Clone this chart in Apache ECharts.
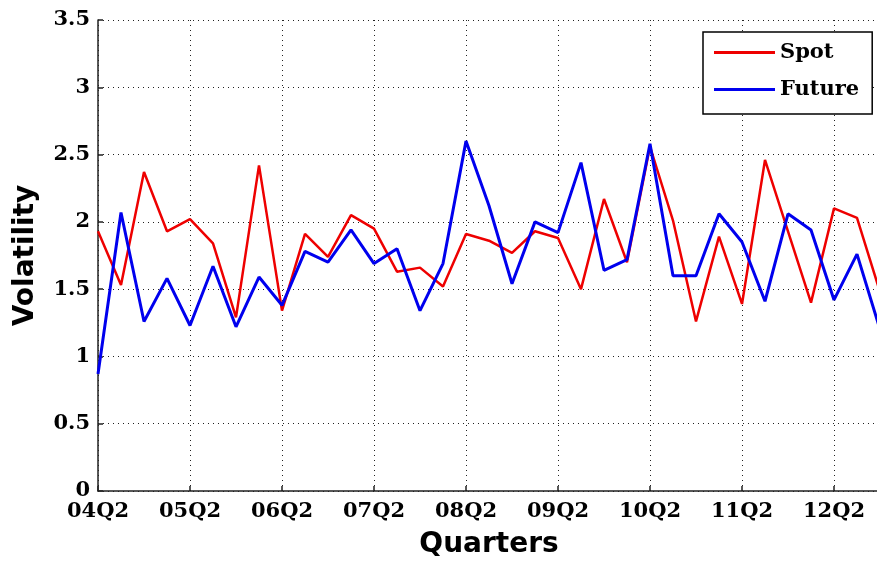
<!DOCTYPE html>
<html>
<head>
<meta charset="utf-8">
<script src="https://cdn.jsdelivr.net/npm/echarts@6/dist/echarts.min.js"></script>
<style>
  html, body { margin: 0; padding: 0; background: #fff; }
  #chart { width: 877px; height: 562px; }
</style>
</head>
<body>
<div id="chart"></div>
<script>
var quarters = ['04Q2','04Q3','04Q4','05Q1','05Q2','05Q3','05Q4','06Q1','06Q2','06Q3','06Q4','07Q1',
  '07Q2','07Q3','07Q4','08Q1','08Q2','08Q3','08Q4','09Q1','09Q2','09Q3','09Q4','10Q1',
  '10Q2','10Q3','10Q4','11Q1','11Q2','11Q3','11Q4','12Q1','12Q2','12Q3','12Q4'];
var spot = [1.93,1.53,2.37,1.93,2.02,1.84,1.29,2.42,1.34,1.91,1.74,2.05,1.95,1.63,1.66,1.52,
  1.91,1.86,1.77,1.93,1.88,1.50,2.17,1.70,2.56,2.01,1.26,1.89,1.39,2.46,1.93,1.40,2.10,2.03,1.48];
var future = [0.87,2.07,1.26,1.58,1.23,1.67,1.22,1.59,1.38,1.78,1.70,1.94,1.69,1.80,1.34,1.69,
  2.60,2.12,1.54,2.00,1.92,2.44,1.64,1.72,2.58,1.60,1.60,2.06,1.85,1.41,2.06,1.94,1.42,1.76,1.20];
var yMin = 0, yMax = 3.5, yStep = 0.5;

var chart = echarts.init(document.getElementById('chart'), null, { renderer: 'canvas' });
var gridLine = { color: '#222', width: 1, type: [1, 4] };
var tickFont = { fontFamily: 'DejaVu Serif', fontWeight: 'bold', fontSize: 21, color: '#000' };
chart.setOption({
  animation: false,
  backgroundColor: '#fff',
  grid: { left: 98, top: 20, right: -3, bottom: 71, containLabel: false, outerBoundsMode: 'none' },
  legend: {
    orient: 'vertical',
    left: 703, top: 32,
    padding: [10, 13, 14, 11],
    itemGap: 16,
    itemWidth: 61, itemHeight: 3,
    icon: 'rect',
    borderColor: '#000', borderWidth: 1.5,
    backgroundColor: '#fff',
    textStyle: { fontFamily: 'DejaVu Serif', fontWeight: 'bold', fontSize: 21, color: '#000' },
    data: ['Spot', 'Future']
  },
  xAxis: {
    type: 'category',
    data: quarters,
    boundaryGap: false,
    name: 'Quarters',
    nameLocation: 'middle',
    nameGap: 40,
    nameTextStyle: { fontFamily: 'DejaVu Sans', fontWeight: 'bold', fontSize: 28, color: '#000' },
    axisLine: { lineStyle: { color: '#222', width: 1.5 } },
    axisTick: { inside: true, length: 5, interval: 3, lineStyle: { color: '#222', width: 1.5 } },
    axisLabel: Object.assign({ interval: 3, margin: 10 }, tickFont),
    splitLine: { show: true, interval: 3, lineStyle: gridLine }
  },
  yAxis: {
    type: 'value',
    min: yMin, max: yMax, interval: yStep,
    name: 'Volatility',
    nameLocation: 'middle',
    nameGap: 58,
    nameTextStyle: { fontFamily: 'DejaVu Sans', fontWeight: 'bold', fontSize: 28, color: '#000' },
    axisLine: { show: true, lineStyle: { color: '#222', width: 1.5 } },
    axisTick: { show: true, inside: true, length: 5, lineStyle: { color: '#222', width: 1.5 } },
    axisLabel: Object.assign({ margin: 8, formatter: function (v) { return String(+v.toFixed(1)); } }, tickFont),
    splitLine: { show: true, lineStyle: gridLine }
  },
  series: [
    { name: 'Spot', type: 'line', data: spot, showSymbol: false, symbol: 'none',
      itemStyle: { color: '#ee0000' }, lineStyle: { color: '#ee0000', width: 2.5 } },
    { name: 'Future', type: 'line', data: future, showSymbol: false, symbol: 'none',
      itemStyle: { color: '#0000ee' }, lineStyle: { color: '#0000ee', width: 3 } }
  ]
});
</script>
</body>
</html>
